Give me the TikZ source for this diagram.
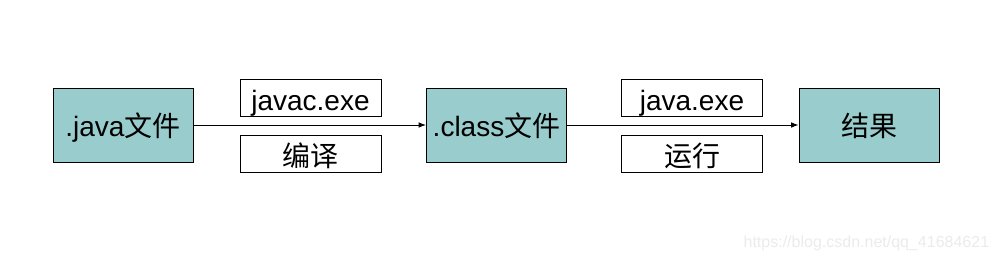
\documentclass[tikz,border=0pt]{standalone}
\usepackage{fontspec}
\setmainfont{Liberation Sans}
\newfontfamily\cjk{Noto Sans CJK SC}
\usetikzlibrary{arrows.meta}
\definecolor{fileteal}{HTML}{99CCCC}

\begin{document}
\begin{tikzpicture}[x=1pt,y=-1pt,line width=1pt,>={Latex[length=2.6mm,width=2mm]},
  filebox/.style={draw,fill=fileteal,minimum width=140pt,minimum height=74pt,inner sep=0pt,text height=24pt,text depth=2pt,font=\fontsize{28}{30}\selectfont},
  tagbox/.style={draw,fill=white,minimum width=141pt,minimum height=37pt,inner sep=0pt,text height=27pt,text depth=2pt,font=\fontsize{28}{30}\selectfont}]
  \useasboundingbox (0,0) rectangle (1001,260);
  % Dateien
  \node[filebox] (java) at (123,125){.java{\cjk 文件}};
  \node[filebox] (class) at (496.5,125){.class{\cjk 文件}};
  \node[filebox] (result) at (869,125){\cjk 结果};
  % Werkzeuge
  \node[tagbox] (javac) at (310.5,97.5){javac.exe};
  \node[tagbox] (compile) at (310.5,153.5){\cjk 编译};
  \node[tagbox] (javaexe) at (692,97.5){java.exe};
  \node[tagbox] (run) at (692,153.5){\cjk 运行};
  \draw[->] (java) -- (class);
  \draw[->] (class) -- (result);
  \node[anchor=base east,text=black!8,font=\fontsize{16}{18}\selectfont] (mark) at (993,247){https://blog.csdn.net/qq\_41684621};
\end{tikzpicture}
\end{document}
